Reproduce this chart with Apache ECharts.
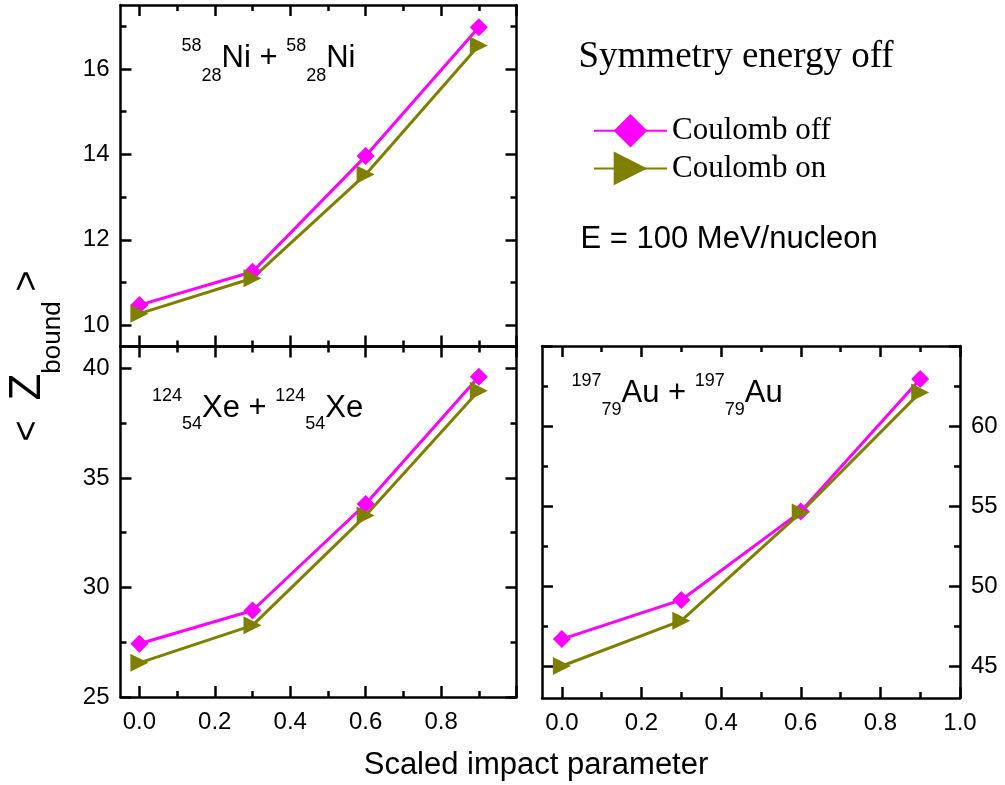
<!DOCTYPE html>
<html>
<head>
<meta charset="utf-8">
<script src="https://cdn.jsdelivr.net/npm/echarts@6/dist/echarts.min.js"></script>
<style>
  html, body { margin: 0; padding: 0; background: #fff; }
  #chart { width: 1005px; height: 785px; }
</style>
</head>
<body>
<div id="chart"></div>
<script>
// Mean bound charge <Z_bound> versus scaled impact parameter (symmetry energy off)
const impact = [0.0, 0.3, 0.6, 0.9];

const niCoulombOff = [10.47, 11.25, 13.96, 16.98];
const niCoulombOn  = [10.27, 11.10, 13.53, 16.55];
const xeCoulombOff = [27.43, 28.95, 33.81, 39.62];
const xeCoulombOn  = [26.56, 28.27, 33.28, 38.98];
const auCoulombOff = [46.68, 49.13, 54.65, 62.94];
const auCoulombOn  = [45.00, 47.83, 54.59, 62.10];

const seriesNames = ['Coulomb off', 'Coulomb on'];

// tick positions and tick labels
const xMajorTicks  = [0.0, 0.2, 0.4, 0.6, 0.8, 1.0];
const xMinorTicks  = [0.1, 0.3, 0.5, 0.7, 0.9];
const xLabelsLeft  = [0.0, 0.2, 0.4, 0.6, 0.8];
const xLabelsRight = [0.0, 0.2, 0.4, 0.6, 0.8, 1.0];

const niYMajor = [10, 12, 14, 16];
const niYMinor = [11, 13, 15, 17];
const xeYMajor = [25, 30, 35, 40];
const xeYMinor = [27.5, 32.5, 37.5];
const auYMajor = [45, 50, 55, 60, 65];
const auYMinor = [47.5, 52.5, 57.5, 62.5];
const auYLabels = [45, 50, 55, 60];

const SANS  = '"Liberation Sans", Arial, sans-serif';
const SERIF = '"Liberation Serif", "Times New Roman", serif';
const MAGENTA = '#ff00ff';
const OLIVE = '#808000';
const FRAME_W = 2.5;
const LINE_W = 3;

const pairs = (xs, ys) => xs.map((x, i) => [x, ys[i]]);

// panels: 0 = Ni+Ni (top left), 1 = Xe+Xe (bottom left), 2 = Au+Au (bottom right)
const panels = [
  { box: { left: 120.5, top: 5,     width: 396, height: 341.5 }, yMin: 9.5, yMax: 17.5,
    yMajor: niYMajor, yMinor: niYMinor, yLabels: niYMajor, ySide: 'left', xLabels: null,
    off: niCoulombOff, on: niCoulombOn },
  { box: { left: 120.5, top: 346.5, width: 396, height: 350.5 }, yMin: 25, yMax: 41,
    yMajor: xeYMajor, yMinor: xeYMinor, yLabels: xeYMajor, ySide: 'left', xLabels: xLabelsLeft,
    off: xeCoulombOff, on: xeCoulombOn },
  { box: { left: 542,   top: 346,   width: 418, height: 352 }, yMin: 43, yMax: 65,
    yMajor: auYMajor, yMinor: auYMinor, yLabels: auYLabels, ySide: 'right', xLabels: xLabelsRight,
    off: auCoulombOff, on: auCoulombOn }
];

function tickAxis(gridIndex, position, min, max, ticks, len, labels, fmt, margin, showLine) {
  return {
    type: 'value', gridIndex, position, min, max,
    axisLine: { show: showLine, onZero: false, lineStyle: { color: '#000', width: FRAME_W } },
    axisTick: { show: true, inside: true, length: len, customValues: ticks,
                lineStyle: { color: '#000', width: FRAME_W } },
    axisLabel: labels
      ? { show: true, customValues: labels, formatter: fmt, margin,
          fontFamily: SANS, fontSize: 24, color: '#000' }
      : { show: false },
    splitLine: { show: false },
    minorTick: { show: false },
    minorSplitLine: { show: false }
  };
}

const fmtX = v => Number(v).toFixed(1);
const fmtY = v => String(Math.round(v));

const grid = [], xAxis = [], yAxis = [], series = [];
panels.forEach((p, g) => {
  grid.push(Object.assign({ show: false, containLabel: false, outerBoundsMode: 'none' }, p.box));
  // x: bottom major (labels), bottom minor, top major, top minor
  xAxis.push(tickAxis(g, 'bottom', -0.05, 1.0, xMajorTicks, 11, p.xLabels, fmtX, 13, true));
  xAxis.push(tickAxis(g, 'bottom', -0.05, 1.0, xMinorTicks, 6, null, null, 0, false));
  xAxis.push(tickAxis(g, 'top', -0.05, 1.0, xMajorTicks, 11, null, null, 0, true));
  xAxis.push(tickAxis(g, 'top', -0.05, 1.0, xMinorTicks, 6, null, null, 0, false));
  // y: left major, left minor, right major, right minor
  const leftLabels  = p.ySide === 'left'  ? p.yLabels : null;
  const rightLabels = p.ySide === 'right' ? p.yLabels : null;
  yAxis.push(tickAxis(g, 'left',  p.yMin, p.yMax, p.yMajor, 11, leftLabels, fmtY, 11, true));
  yAxis.push(tickAxis(g, 'left',  p.yMin, p.yMax, p.yMinor, 6, null, null, 0, false));
  yAxis.push(tickAxis(g, 'right', p.yMin, p.yMax, p.yMajor, 11, rightLabels, fmtY, 11, true));
  yAxis.push(tickAxis(g, 'right', p.yMin, p.yMax, p.yMinor, 6, null, null, 0, false));

  const base = { type: 'line', xAxisIndex: 4 * g, yAxisIndex: 4 * g, symbolSize: 18,
                 animation: false, silent: true, emphasis: { disabled: true } };
  series.push(Object.assign({}, base, {
    name: seriesNames[0], data: pairs(impact, p.off), symbol: 'diamond',
    lineStyle: { color: MAGENTA, width: LINE_W }, itemStyle: { color: MAGENTA }
  }));
  series.push(Object.assign({}, base, {
    name: seriesNames[1], data: pairs(impact, p.on), symbol: 'triangle', symbolRotate: -90,
    lineStyle: { color: OLIVE, width: LINE_W }, itemStyle: { color: OLIVE }
  }));
});

// nuclide label with left superscript (mass) and subscript (charge)
function nuclide(x, y, mass, charge, sym, mainSize, scriptSize, supPad, subPad) {
  const one = `{sup|${mass}}{sub|${charge}}{m|${sym}}`;
  return {
    type: 'text', x, y, silent: true,
    style: {
      text: one.replace(`{m|${sym}}`, `{m|${sym} + }`) + one,
      align: 'left', verticalAlign: 'middle', fill: '#000',
      fontFamily: SANS, fontSize: mainSize,
      rich: {
        m:   { fontFamily: SANS, fontSize: mainSize, fill: '#000' },
        sup: { fontFamily: SANS, fontSize: scriptSize, fill: '#000', padding: [0, 0, supPad, 0] },
        sub: { fontFamily: SANS, fontSize: scriptSize, fill: '#000', padding: [subPad, 0, 0, 0] }
      }
    }
  };
}

const graphic = [
  nuclide(181.5, 58.5, 58, 28, 'Ni', 31, 18, 24.2, 35.8),
  nuclide(152, 408, 124, 54, 'Xe', 31, 18, 24.2, 32.4),
  nuclide(571.5, 393.5, 197, 79, 'Au', 31, 18, 25.6, 33),
  { type: 'text', x: 578.5, y: 57.5, silent: true,
    style: { text: 'Symmetry energy off', fontFamily: SERIF, fontSize: 37, fill: '#000',
             align: 'left', verticalAlign: 'middle' } },
  { type: 'text', x: 580.5, y: 239.3, silent: true,
    style: { text: 'E = 100 MeV/nucleon', fontFamily: SANS, fontSize: 31, fill: '#000',
             align: 'left', verticalAlign: 'middle' } },
  { type: 'text', x: 536, y: 765.3, silent: true,
    style: { text: 'Scaled impact parameter', fontFamily: SANS, fontSize: 31, fill: '#000',
             align: 'center', verticalAlign: 'middle' } },
  { type: 'text', x: 28, y: 356, rotation: Math.PI / 2, silent: true,
    style: {
      text: '{a|<  }{z|Z}{s|bound}{a| >}',
      align: 'center', verticalAlign: 'middle', fill: '#000', fontFamily: SANS, fontSize: 44,
      rich: {
        a: { fontFamily: SANS, fontSize: 36, fill: '#000' },
        z: { fontFamily: SANS, fontSize: 44, fill: '#000' },
        s: { fontFamily: SANS, fontSize: 26, fill: '#000', padding: [50, 0, 0, 0] }
      }
    } }
];

const chart = echarts.init(document.getElementById('chart'), null, { renderer: 'canvas' });
chart.setOption({
  animation: false,
  backgroundColor: '#fff',
  grid, xAxis, yAxis, series, graphic,
  legend: {
    data: seriesNames,
    orient: 'vertical', left: 593, top: 114, padding: 0,
    itemWidth: 73, itemHeight: 42, itemGap: 4,
    selectedMode: false,
    textStyle: { fontFamily: SERIF, fontSize: 31, color: '#000' }
  }
});
</script>
</body>
</html>
